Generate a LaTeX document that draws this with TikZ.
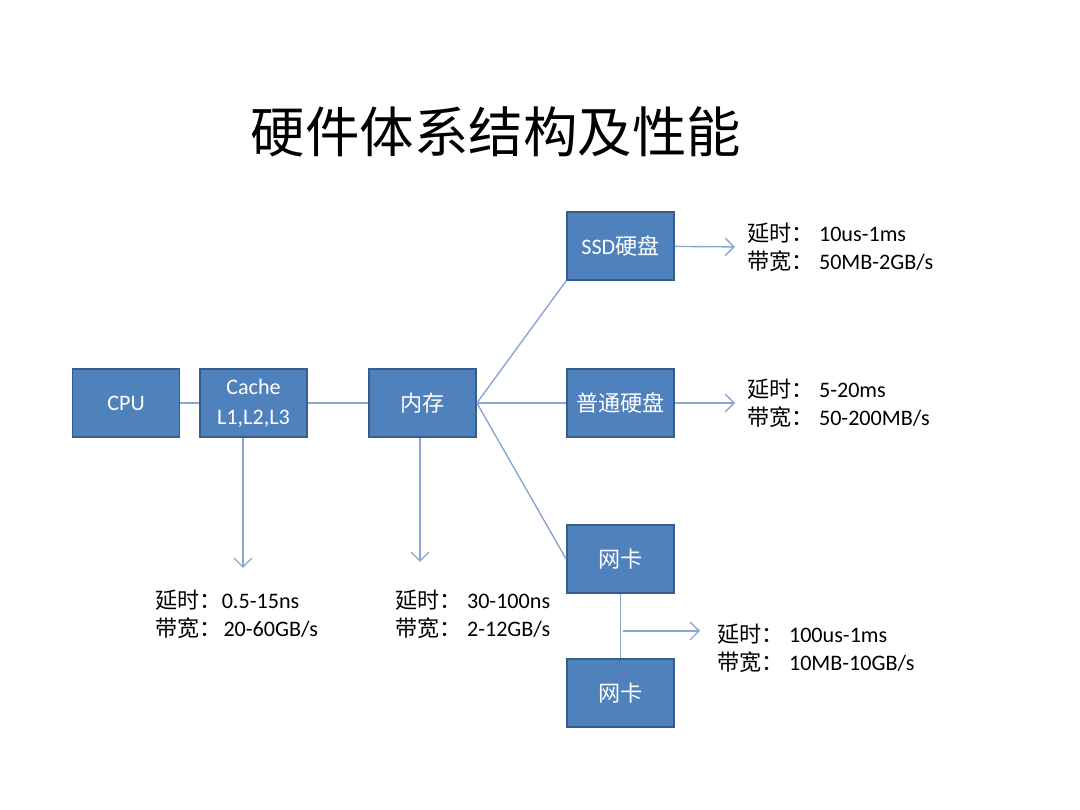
\documentclass[tikz,border=0pt]{standalone}
\usepackage{fontspec}
\setmainfont{Carlito}
\newfontfamily\cjk{Noto Sans CJK SC}
\usepackage{tikz}
\usetikzlibrary{arrows.meta}

\definecolor{boxblue}{HTML}{4F81BD}
\definecolor{boxedge}{HTML}{385D8A}
\definecolor{linkblue}{HTML}{8AA6D2}

\begin{document}
\begin{tikzpicture}[x = .02cm, y = -.02cm, >={Straight Barb[length=5pt, width=10pt]},
  part/.style = {draw=boxedge, line width=1pt, fill=boxblue, text=white, inner sep=0pt,
    minimum width=2.14cm, minimum height=1.36cm, align=center, font=\fontsize{12.6}{17}\selectfont},
  link/.style = {draw=linkblue, line width=.8pt},
  info/.style = {anchor=west, align=left, inner sep=0pt, font=\fontsize{12.6}{16}\selectfont}]
        \useasboundingbox (0,0) rectangle (1080,810);
        \node (title) at (496,132) {\fontsize{31}{31}\selectfont\cjk 硬件体系结构及性能};
        \node[part] (cpu) at (126,403) {CPU};
        \node[part] (cache) at (253.5,403) {Cache\\L1,L2,L3};
        \node[part] (mem) at (422.5,403) {\cjk 内存};
        \node[part] (ssd) at (620.5,246) {SSD{\cjk 硬盘}};
        \node[part] (hdd) at (620.5,403) {\cjk 普通硬盘};
        \node[part] (nic) at (620.5,559) {\cjk 网卡};
        \node[part] (nicb) at (620.5,693) {\cjk 网卡};
        \node[info] (ssdinfo) at (747,247) {{\cjk 延时：}\hspace{3pt}10us-1ms\\{\cjk 带宽：}\hspace{3pt}50MB-2GB/s};
        \node[info] (hddinfo) at (747,403) {{\cjk 延时：}\hspace{3pt}5-20ms\\{\cjk 带宽：}\hspace{3pt}50-200MB/s};
        \node[info] (cacheinfo) at (155,614) {{\cjk 延时：}0.5-15ns\\{\cjk 带宽：}\hspace{1pt}20-60GB/s};
        \node[info] (meminfo) at (395,614) {{\cjk 延时：}\hspace{3pt}30-100ns\\{\cjk 带宽：}\hspace{3pt}2-12GB/s};
        \node[info] (nicinfo) at (717,648) {{\cjk 延时：}\hspace{3pt}100us-1ms\\{\cjk 带宽：}\hspace{3pt}10MB-10GB/s};
        \coordinate (cachetip) at (243,568);
        \coordinate (memtip) at (420,562);
        \coordinate (nicfork) at (623,631);
        \coordinate (nictip) at (700,631);
        \draw[link] (cpu) -- (cache);
        \draw[link] (cache) -- (mem);
        \draw[link] (mem.east) -- (ssd.south west);
        \draw[link] (mem.east) -- (hdd);
        \draw[link] (mem.east) -- (nic.west);
        \draw[link] (nic) -- (nicb);
        \draw[link, ->, shorten >=.24cm] (ssd) -- (ssdinfo.west);
        \draw[link, ->, shorten >=.24cm] (hdd) -- (hddinfo.west);
        \draw[link, ->] (cachetip |- cache.south) -- (cachetip);
        \draw[link, ->] (memtip |- mem.south) -- (memtip);
        \draw[link, ->] (nicfork) -- (nictip);
      \end{tikzpicture}
\end{document}
